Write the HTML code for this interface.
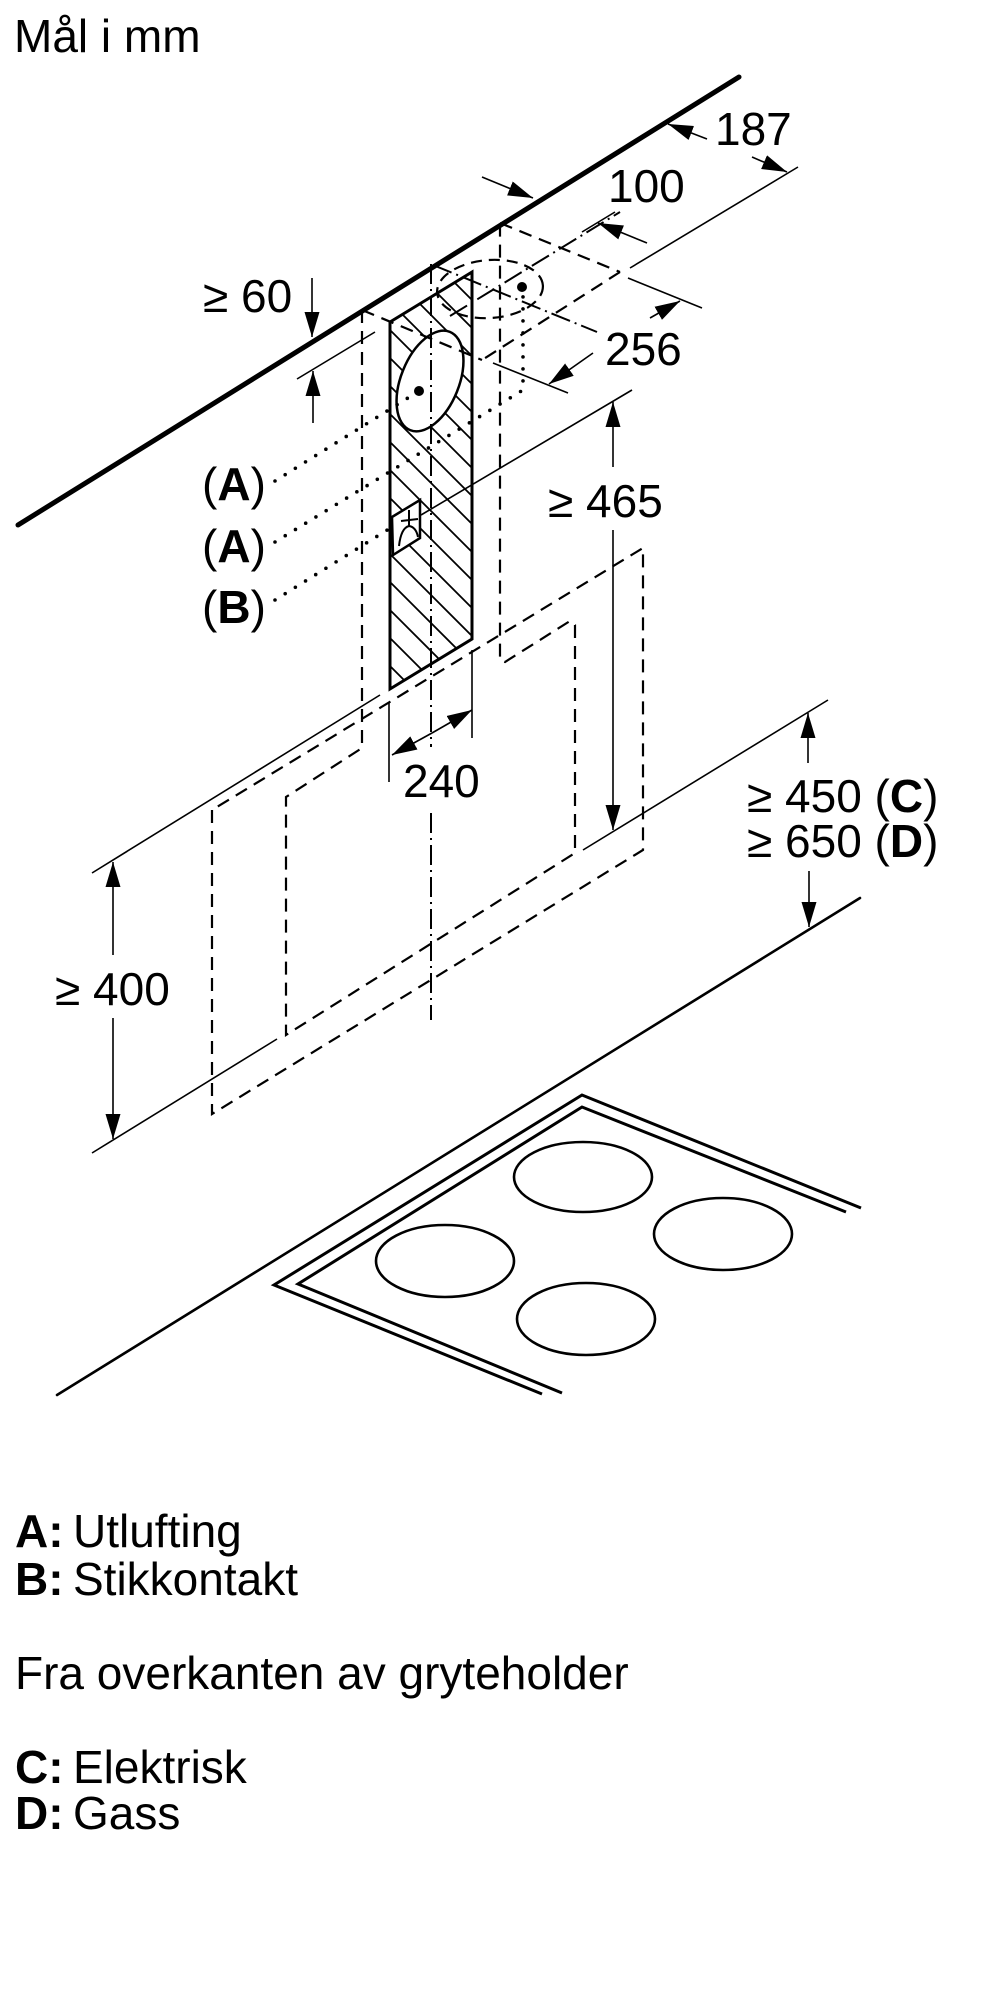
<!DOCTYPE html>
<html>
<head>
<meta charset="utf-8">
<style>
html,body{margin:0;padding:0;background:#fff;width:1000px;height:2000px;overflow:hidden}
svg{display:block}
text{font-family:"Liberation Sans",Arial,sans-serif;fill:#000}
</style>
</head>
<body>
<svg width="1000" height="2000" viewBox="0 0 1000 2000" xmlns="http://www.w3.org/2000/svg">
<defs>
  <marker id="ah" viewBox="0 0 25 15" refX="25" refY="7.5" markerWidth="25" markerHeight="15" markerUnits="userSpaceOnUse" orient="auto">
    <path d="M0,0 L25,7.5 L0,15 Z" fill="#000"/>
  </marker>
  <clipPath id="panelClip">
    <polygon points="390,322 472,272 472,639 390,689"/>
  </clipPath>
</defs>

<!-- Title -->
<text x="14" y="52" font-size="46">Mål i mm</text>

<!-- Wall / ceiling line -->
<line x1="18" y1="525" x2="739" y2="77" stroke="#000" stroke-width="5" stroke-linecap="round"/>

<!-- Hatched panel -->
<g clip-path="url(#panelClip)" stroke="#000" stroke-width="1.8">
  <line x1="380" y1="180" x2="485" y2="285"/>
  <line x1="380" y1="208" x2="485" y2="313"/>
  <line x1="380" y1="236" x2="485" y2="341"/>
  <line x1="380" y1="264" x2="485" y2="369"/>
  <line x1="380" y1="292" x2="485" y2="397"/>
  <line x1="380" y1="320" x2="485" y2="425"/>
  <line x1="380" y1="348" x2="485" y2="453"/>
  <line x1="380" y1="376" x2="485" y2="481"/>
  <line x1="380" y1="404" x2="485" y2="509"/>
  <line x1="380" y1="432" x2="485" y2="537"/>
  <line x1="380" y1="460" x2="485" y2="565"/>
  <line x1="380" y1="488" x2="485" y2="593"/>
  <line x1="380" y1="516" x2="485" y2="621"/>
  <line x1="380" y1="544" x2="485" y2="649"/>
  <line x1="380" y1="572" x2="485" y2="677"/>
  <line x1="380" y1="600" x2="485" y2="705"/>
  <line x1="380" y1="628" x2="485" y2="733"/>
  <line x1="380" y1="656" x2="485" y2="761"/>
</g>
<polygon points="390,322 472,272 472,639 390,689" fill="none" stroke="#000" stroke-width="3" stroke-linejoin="miter"/>

<!-- solid duct ellipse -->
<ellipse cx="430" cy="381" rx="53" ry="29" transform="rotate(-68 430 381)" fill="#fff" stroke="#000" stroke-width="2.5"/>
<circle cx="419" cy="391" r="5" fill="#000"/>

<!-- socket -->
<polygon points="392,517 420,500 420,538 393,555" fill="#fff" stroke="#000" stroke-width="2.5"/>
<path d="M409,510 L409,527 M401,521 L418,519 M399,546 Q401,528 409,526 Q416,527 418,537" fill="none" stroke="#000" stroke-width="2"/>

<!-- Dashed hidden lines -->
<g fill="none" stroke="#000" stroke-width="2.2" stroke-dasharray="13 8">
  <polyline points="362,310 362,748 286,797 286,1035 575,853 575,625 570,621 505,662 500,660 500,223"/>
  <line x1="500" y1="223" x2="620" y2="272"/>
  <line x1="620" y1="272" x2="482" y2="360"/>
  <line x1="362" y1="310" x2="482" y2="360"/>
  <polygon points="212,810 212,1114 643,850 643,548"/>
  <ellipse cx="490" cy="289" rx="53" ry="29" transform="rotate(-4 490 289)" stroke-dasharray="11 7"/>
</g>
<circle cx="522" cy="287" r="5" fill="#000"/>

<!-- Dash-dot centre lines -->
<g fill="none" stroke="#000" stroke-width="2" stroke-dasharray="20 5 2 5">
  <line x1="431" y1="264" x2="431" y2="747"/>
  <line x1="431" y1="813" x2="431" y2="1020"/>
  <line x1="433" y1="265" x2="597" y2="332"/>
  <line x1="450" y1="316" x2="620" y2="212"/>
</g>

<!-- Dotted leader lines -->
<g fill="none" stroke="#000" stroke-width="3.6" stroke-linecap="round" stroke-dasharray="0 12">
  <line x1="275" y1="481" x2="419" y2="391"/>
  <polyline points="275,542 523,390 523,293"/>
  <line x1="275" y1="600" x2="392" y2="527"/>
</g>

<!-- Thin extension lines -->
<g stroke="#000" stroke-width="1.6" fill="none">
  <line x1="630" y1="268" x2="798" y2="167"/>
  <line x1="582" y1="232" x2="615" y2="212"/>
  <line x1="628" y1="278" x2="702" y2="308"/>
  <line x1="493" y1="363" x2="568" y2="393"/>
  <line x1="297" y1="379" x2="375" y2="332"/>
  <line x1="421" y1="515" x2="632" y2="390"/>
  <line x1="583" y1="850" x2="828" y2="700"/>
  <line x1="389" y1="703" x2="389" y2="782"/>
  <line x1="472" y1="650" x2="472" y2="738"/>
  <line x1="92" y1="873" x2="380" y2="695"/>
  <line x1="92" y1="1153" x2="277" y2="1039"/>
</g>

<!-- Arrows -->
<g stroke="#000" stroke-width="1.6" fill="none" marker-end="url(#ah)">
  <line x1="707" y1="139" x2="668" y2="124"/>
  <line x1="752" y1="157" x2="787" y2="172"/>
  <line x1="482" y1="177" x2="533" y2="198"/>
  <line x1="647" y1="243" x2="598" y2="223"/>
  <line x1="650" y1="318" x2="680" y2="301"/>
  <line x1="593" y1="353" x2="549" y2="384"/>
  <line x1="312" y1="278" x2="312" y2="337"/>
  <line x1="313" y1="423" x2="313" y2="371"/>
  <line x1="613" y1="467" x2="613" y2="402"/>
  <line x1="613" y1="530" x2="613" y2="830"/>
  <line x1="432" y1="733" x2="392" y2="755"/>
  <line x1="432" y1="733" x2="472" y2="710"/>
  <line x1="113" y1="955" x2="113" y2="862"/>
  <line x1="113" y1="1018" x2="113" y2="1139"/>
  <line x1="808" y1="763" x2="808" y2="713"/>
  <line x1="809" y1="871" x2="809" y2="927"/>
</g>

<!-- Worktop edge -->
<line x1="57" y1="1395" x2="860" y2="898" stroke="#000" stroke-width="2.6" stroke-linecap="round"/>

<!-- Hob -->
<g fill="none" stroke="#000" stroke-width="3" stroke-linejoin="miter">
  <polyline points="861,1208 582,1095 274,1285 542,1394"/>
  <polyline points="846,1212 582,1107 298,1284 562,1393"/>
  <ellipse cx="583" cy="1177" rx="69" ry="35" stroke-width="2.6"/>
  <ellipse cx="445" cy="1261" rx="69" ry="36" stroke-width="2.6"/>
  <ellipse cx="723" cy="1234" rx="69" ry="36" stroke-width="2.6"/>
  <ellipse cx="586" cy="1319" rx="69" ry="36" stroke-width="2.6"/>
</g>

<!-- Dimension texts -->
<g font-size="46">
  <text x="715" y="145">187</text>
  <text x="608" y="202">100</text>
  <text x="605" y="365">256</text>
  <text x="203" y="312">≥ 60</text>
  <text x="548" y="517">≥ 465</text>
  <text x="403" y="797">240</text>
  <text x="55" y="1005">≥ 400</text>
  <text x="747" y="812">≥ 450 (<tspan font-weight="bold">C</tspan>)</text>
  <text x="747" y="857">≥ 650 (<tspan font-weight="bold">D</tspan>)</text>
  <text x="202" y="500">(<tspan font-weight="bold">A</tspan>)</text>
  <text x="202" y="562">(<tspan font-weight="bold">A</tspan>)</text>
  <text x="202" y="623">(<tspan font-weight="bold">B</tspan>)</text>
</g>

<!-- Legend -->
<g font-size="46">
  <text x="15" y="1547" font-weight="bold">A:</text>
  <text x="73" y="1547">Utlufting</text>
  <text x="15" y="1595" font-weight="bold">B:</text>
  <text x="73" y="1595">Stikkontakt</text>
  <text x="15" y="1689">Fra overkanten av gryteholder</text>
  <text x="15" y="1783" font-weight="bold">C:</text>
  <text x="73" y="1783">Elektrisk</text>
  <text x="15" y="1829" font-weight="bold">D:</text>
  <text x="73" y="1829">Gass</text>
</g>
</svg>
</body>
</html>
